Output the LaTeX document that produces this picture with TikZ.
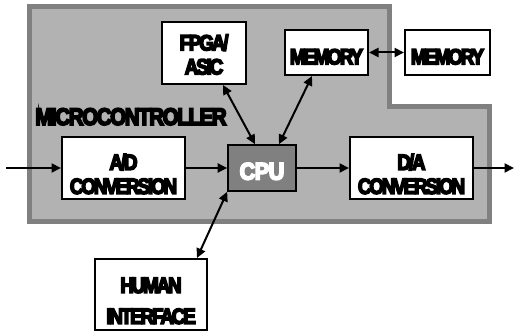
\documentclass[tikz,border=0pt]{standalone}
\usepackage{fontspec}
\usetikzlibrary{arrows.meta}
\newfontfamily\lab{Liberation Sans}[FakeStretch=0.85,LetterSpace=-9.4,FakeBold=7]
\newfontfamily\mclab{Liberation Sans}[FakeStretch=0.85,LetterSpace=-5.5,FakeBold=7]
\newfontfamily\cpulab{Liberation Sans}[FakeStretch=0.9,LetterSpace=-2,FakeBold=7]
\definecolor{regionfill}{HTML}{B2B2B2}
\definecolor{regionedge}{HTML}{808080}
\definecolor{cpufill}{HTML}{808080}
\newcommand\lbl[2]{\raisebox{#1}[\height][\depth]{\begin{tabular}{@{}c@{}}#2\end{tabular}}}
\tikzset{
  box/.style={draw=black, line width=2pt, fill=white, inner sep=0pt,
    font=\lab\bfseries\fontsize{22}{24}\selectfont},
  cpubox/.style={box, fill=cpufill, line width=1.6pt, text=white,
    font=\cpulab\bfseries\fontsize{24}{26}\selectfont},
  link/.style={line width=2pt, -{Triangle[length=9.5pt,width=9pt]}},
  dlink/.style={line width=2pt, {Triangle[length=9.5pt,width=9pt]}-{Triangle[length=9.5pt,width=9pt]}},
}
\begin{document}
\begin{tikzpicture}[x=1pt,y=-1pt]
\useasboundingbox (0,0) rectangle (515,331);
% microcontroller region
\draw[draw=regionedge, fill=regionfill, line width=5pt]
  (29.5,7) -- (389.5,7) -- (389.5,107) -- (489.5,107) -- (489.5,222) -- (29.5,222) -- cycle;
\node[font=\mclab\bfseries\fontsize{24}{26}\selectfont, anchor=base] (mc) at (131,125) {MICROCONTROLLER};
% blocks
\node[box, minimum width=84, minimum height=62] (fpga) at (204,53) {\lbl{-4.6pt}{FPGA/\\ASIC}};
\node[box, minimum width=83, minimum height=45] (mem1) at (326.5,52.5) {\lbl{-7.1pt}{MEMORY}};
\node[box, minimum width=85, minimum height=45] (mem2) at (447.5,52.5) {\lbl{-7.1pt}{MEMORY}};
\node[box, minimum width=123, minimum height=62] (ad) at (123.5,168) {\lbl{-9.1pt}{A/D\\CONVERSION}};
\node[cpubox, minimum width=68, minimum height=46] (cpu) at (262,168) {\lbl{-6.4pt}{CPU}};
\node[box, minimum width=123, minimum height=62] (da) at (411.5,168) {\lbl{-9.1pt}{D/A\\CONVERSION}};
\node[box, minimum width=112, minimum height=71] (hum) at (151,294.5) {\lbl{-9.1pt}{HUMAN\\[7pt]INTERFACE}};
\coordinate (in) at (6,168);
\coordinate (out) at (514,168);
% connectors
\draw[link] (in) -- (ad);
\draw[link] (ad) -- (cpu);
\draw[link] (cpu) -- (da);
\draw[link] (da) -- (out);
\draw[dlink] (mem1) -- (mem2);
\draw[dlink] ([xshift=19pt]fpga.south) -- ([xshift=-7pt]cpu.north);
\draw[dlink] ([xshift=-14.5pt]mem1.south) -- ([xshift=17pt]cpu.north);
\draw[dlink] (cpu.south west) -- ([xshift=-11pt]hum.north east);
\end{tikzpicture}
\end{document}
